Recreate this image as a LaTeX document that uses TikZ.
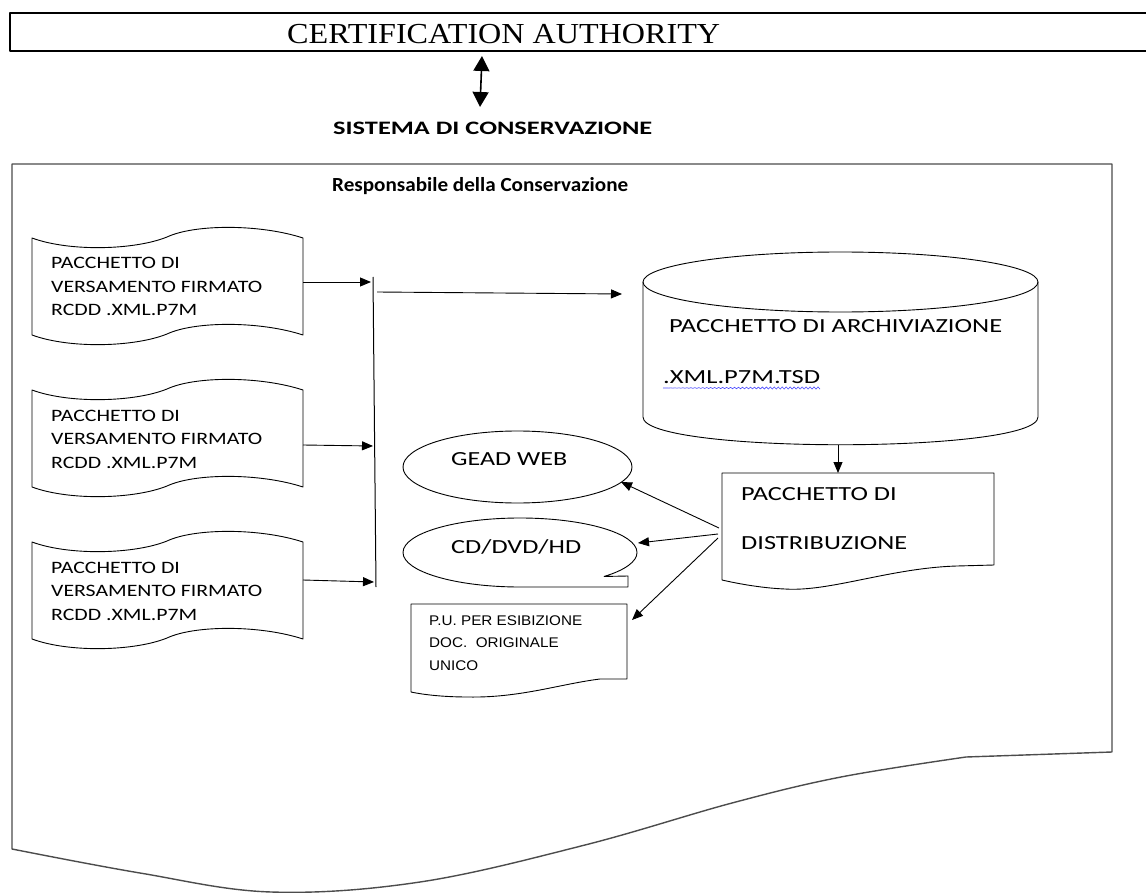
\documentclass[tikz,border=0pt]{standalone}
\usepackage{fontspec}
\usepackage{graphicx}
\usetikzlibrary{arrows.meta}
\newfontfamily\calibrif{Carlito}
\newfontfamily\timesf{Liberation Serif}
\newfontfamily\arialf{Liberation Sans}
\newcommand\fitw[2]{\resizebox{#1pt}{\height}{\begin{tabular}[t]{@{}l@{}}#2\end{tabular}}}
\begin{document}
\begin{tikzpicture}[x=1pt,y=-1pt,line join=round,
  shp/.style={draw=black,line width=0.9pt},
  frame/.style={draw=black!70,line width=1.4pt},
  arr/.style={-{Triangle[length=11pt,width=9pt]},line width=0.9pt},
  txt/.style={inner sep=0pt,anchor=base west,align=left},
  cal/.style={font=\calibrif\fontsize{17.4}{23.5}\selectfont},
  calb/.style={font=\calibrif\bfseries\fontsize{20}{24}\selectfont},
  cal20/.style={font=\calibrif\fontsize{20}{49}\selectfont}]
\useasboundingbox (0,0) rectangle (1146,893);
% certification authority
\draw[line width=1.3pt] (1146,13) -- (10,13) -- (10,51) -- (1146,51);
\node[txt,font=\timesf\fontsize{29}{32}\selectfont] (ca) at (287,43.3) {\fitw{433}{CERTIFICATION AUTHORITY}};
\node[txt,font=\calibrif\bfseries\fontsize{19}{22}\selectfont] (sis) at (333,135) {\fitw{319}{SISTEMA DI CONSERVAZIONE}};
\coordinate (caP) at (482,56);
\coordinate (sisP) at (480,107);
\draw[{Triangle[length=15pt,width=16pt]}-{Triangle[length=15pt,width=16pt]},line width=1.6pt] (caP) -- (sisP);
% main frame
\draw[frame] (12,164) -- (1112,164) -- (1112,752) -- (966,757)
  -- plot[smooth,tension=0.6] coordinates {(966,757) (841,777) (732,803) (585,845) (420,882) (271,892) (140,873) (12,849)} -- cycle;
\node[txt,calb] (resp) at (332,192) {\fitw{296}{Responsabile della Conservazione}};
% tapes
\foreach \y/\n in {238/1,390/2,542/3}{
  \draw[shp] (32,\y) .. controls (70,\y+14) and (135,\y+12) .. (167,\y-1)
    .. controls (195,\y-14) and (260,\y-14) .. (303,\y) -- (303,\y+97)
    .. controls (260,\y+83) and (195,\y+83) .. (167,\y+96)
    .. controls (135,\y+109) and (70,\y+111) .. (32,\y+97) -- cycle;
  \node[txt,cal] (tape\n) at (51,\y+31) {\fitw{211}{PACCHETTO DI\\VERSAMENTO FIRMATO\\RCDD .XML.P7M}};
}
% bar
\coordinate (barT) at (373,277);
\coordinate (barB) at (376,587);
\draw[line width=1pt] (barT) -- (barB);
\coordinate (t1o) at (303,282); \coordinate (t1i) at (371,282);
\coordinate (t2o) at (303,445); \coordinate (t2i) at (373,446);
\coordinate (t3o) at (303,580); \coordinate (t3i) at (374,582);
\draw[arr] (t1o) -- (t1i);
\draw[arr] (t2o) -- (t2i);
\draw[arr] (t3o) -- (t3i);
\coordinate (barO) at (377,292);
\coordinate (cylIn) at (622,294);
\draw[arr] (barO) -- (cylIn);
% cylinder
\draw[shp] (840.5,282) ellipse[x radius=197.5,y radius=30];
\draw[shp] (643,282) -- (643,417) .. controls (643,454) and (1038,454) .. (1038,417) -- (1038,282);
\node[txt,cal20] (arch) at (669,333) {\fitw{333}{PACCHETTO DI ARCHIVIAZIONE}};
\node[txt,cal20] (xml) at (663,383) {\fitw{157}{.XML.P7M.TSD}};
\draw[blue!70,line width=0.6pt] plot[domain=0:157,samples=80] ({663+\x},{388+1.2*sin(\x*90)});
% distribution
\draw[shp] (722,473) -- (994,473) -- (994,565) -- (957,566)
  .. controls (890,568) and (830,592) .. (785,589)
  .. controls (760,588) and (735,583) .. (722,580) -- cycle;
\node[txt,cal20] (dist) at (741,500) {\fitw{166}{PACCHETTO DI\\DISTRIBUZIONE}};
\coordinate (cylOut) at (838,445);
\coordinate (distIn) at (838,473);
\draw[arr] (cylOut) -- (distIn);
% GEAD WEB
\draw[shp] (517.5,467) ellipse[x radius=114.5,y radius=36];
\node[txt,cal20] (gead) at (451,465) {\fitw{116}{GEAD WEB}};
% CD/DVD/HD
\draw[shp] (520,587) arc[start angle=90,end angle=404,x radius=117,y radius=34.5] -- (628,576) -- (628,587) -- cycle;
\node[txt,cal20] (cd) at (451,553) {\fitw{130}{CD/DVD/HD}};
% P.U.
\draw[shp] (411,604) -- (627,604) -- (627,679) -- (600,679)
  .. controls (560,684) and (520,698) .. (468,697)
  .. controls (440,697) and (420,694) .. (411,692) -- cycle;
\node[txt,font=\arialf\fontsize{14}{22.5}\selectfont] (pu) at (429,625) {\fitw{153}{P.U. PER ESIBIZIONE\\DOC.\ \ ORIGINALE\\UNICO}};
% arrows from distribution
\coordinate (d1) at (719,528); \coordinate (geadIn) at (621,482);
\coordinate (d2) at (718,534); \coordinate (cdIn) at (638,543);
\coordinate (d3) at (718,538); \coordinate (puIn) at (632,620);
\draw[arr] (d1) -- (geadIn);
\draw[arr] (d2) -- (cdIn);
\draw[arr] (d3) -- (puIn);
\end{tikzpicture}
\end{document}
